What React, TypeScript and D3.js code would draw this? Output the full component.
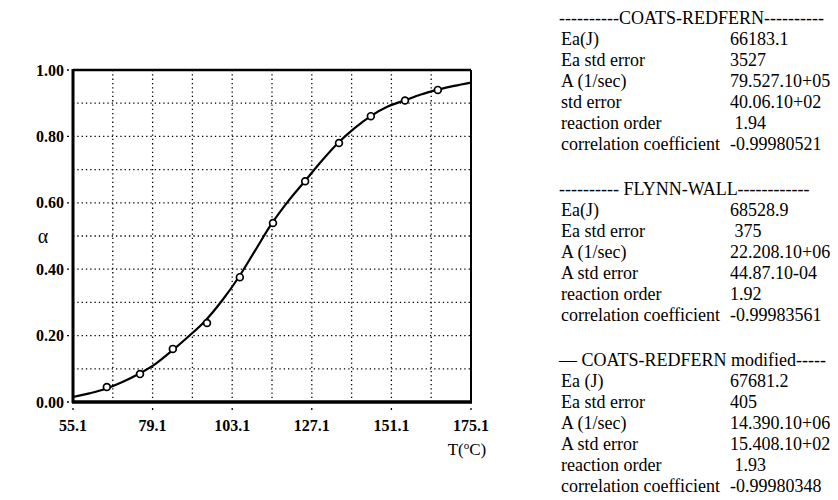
import React from 'react';
import * as d3 from 'd3';

// fitted curve
const curveT = [55.1, 60, 65, 70, 75, 80, 85, 90, 95, 100, 105, 110, 115, 120, 125, 130, 135, 140, 145, 150, 155, 160, 165, 170, 175.1];
const curveAlpha = [0.015, 0.026, 0.04, 0.06, 0.085, 0.115, 0.155, 0.198, 0.245, 0.305, 0.375, 0.456, 0.537, 0.605, 0.665, 0.725, 0.78, 0.825, 0.862, 0.89, 0.908, 0.926, 0.94, 0.952, 0.962];

// measured points (open circles)
const pointT = [65.3, 75.3, 85.2, 95.5, 105.4, 115.4, 125.1, 135.3, 144.9, 155.2, 165.1];
const pointAlpha = [0.045, 0.084, 0.16, 0.238, 0.376, 0.539, 0.665, 0.78, 0.861, 0.908, 0.94];

const xTicks = [55.1, 79.1, 103.1, 127.1, 151.1, 175.1];
const xGrid = [67.1, 79.1, 91.1, 103.1, 115.1, 127.1, 139.1, 151.1, 163.1];
const yTicks = [0, 0.2, 0.4, 0.6, 0.8, 1.0];
const yGrid = [0.1, 0.2, 0.3, 0.4, 0.5, 0.6, 0.7, 0.8, 0.9];

// result table
const groupTitles = ['----------COATS-REDFERN----------', '---------- FLYNN-WALL------------', '\u2014 COATS-REDFERN modified-----'];
const groupLabels = [
  ['Ea(J)', 'Ea std error', 'A (1/sec)', 'std error', 'reaction order', 'correlation coefficient'],
  ['Ea(J)', 'Ea std error', 'A (1/sec)', 'A std error', 'reaction order', 'correlation coefficient'],
  ['Ea (J)', 'Ea std error', 'A (1/sec)', 'A std error', 'reaction order', 'correlation coefficient'],
];
const groupValues = [
  ['66183.1', '3527', '79.527.10+05', '40.06.10+02', ' 1.94', '-0.99980521'],
  ['68528.9', ' 375', '22.208.10+06', '44.87.10-04', '1.92', '-0.99983561'],
  ['67681.2', '405', '14.390.10+06', '15.408.10+02', ' 1.93', '-0.99980348'],
];

const App = () => {
  const left = 73, right = 471, top = 70, bottom = 402;
  const x = d3.scaleLinear().domain([55.1, 175.1]).range([left, right]);
  const y = d3.scaleLinear().domain([0, 1]).range([bottom, top]);

  const line = d3.line<number>()
    .x((d, i) => x(curveT[i]))
    .y(d => y(d))
    .curve(d3.curveMonotoneX);

  const serif = '"Liberation Serif", "Times New Roman", serif';

  return (
    <svg width={838} height={500} style={{ position: 'absolute', left: 0, top: 0, background: '#fff' }}>
      <g stroke="#000" strokeWidth={1.3} strokeDasharray="1.3,3">
        {yGrid.map(v => <line key={'h' + v} x1={left} x2={right} y1={y(v)} y2={y(v)} />)}
        {xGrid.map(v => <line key={'v' + v} x1={x(v)} x2={x(v)} y1={top} y2={bottom} />)}
      </g>

      {/* frame */}
      <line x1={left} x2={right} y1={top} y2={top} stroke="#000" strokeWidth={2.5} />
      <line x1={right} x2={right} y1={top} y2={bottom} stroke="#000" strokeWidth={2} />
      <line x1={left} x2={left} y1={top - 1} y2={bottom + 1} stroke="#000" strokeWidth={3} />
      <line x1={left - 1} x2={right + 1} y1={bottom} y2={bottom} stroke="#000" strokeWidth={3.5} />

      {/* ticks */}
      {yTicks.map(v => <line key={'yt' + v} x1={left - 6} x2={left - 4} y1={y(v)} y2={y(v)} stroke="#000" strokeWidth={1.3} />)}
      {xTicks.map(v => <line key={'xt' + v} x1={x(v)} x2={x(v)} y1={bottom + 6} y2={bottom + 8} stroke="#000" strokeWidth={1.3} />)}

      <g fontFamily={serif} fontWeight="bold" fontSize={16} fill="#000">
        {yTicks.map(v => (
          <text key={'yl' + v} x={left - 9} y={y(v)} dy="0.35em" textAnchor="end">{v.toFixed(2)}</text>
        ))}
        {xTicks.map(v => (
          <text key={'xl' + v} x={x(v)} y={bottom + 29} textAnchor="middle">{v.toFixed(1)}</text>
        ))}
      </g>

      <text x={43} y={243} fontFamily={serif} fontSize={20} textAnchor="middle">α</text>
      <text x={467} y={455} fontFamily={serif} fontSize={17} textAnchor="middle">
        T(<tspan fontSize={11} dy={-6}>o</tspan><tspan dy={6}>C)</tspan>
      </text>

      <path d={line(curveAlpha) || ''} fill="none" stroke="#000" strokeWidth={2.2} />
      {pointT.map((t, i) => (
        <circle key={'p' + i} cx={x(t)} cy={y(pointAlpha[i])} r={3.4} fill="#fff" stroke="#000" strokeWidth={1.7} />
      ))}

      {/* results panel */}
      <g fontFamily={serif} fontSize={18} fill="#000">
        {groupTitles.map((title, g) => {
          const y0 = 24 + g * 171;
          return (
            <g key={'g' + g}>
              <text x={559} y={y0} style={{ whiteSpace: 'pre' }}>{title}</text>
              {groupLabels[g].map((lab, i) => (
                <text key={'l' + i} x={561} y={y0 + 21 * (i + 1)}>{lab}</text>
              ))}
              {groupValues[g].map((val, i) => (
                <text key={'v' + i} x={730} y={y0 + 21 * (i + 1)} style={{ whiteSpace: 'pre' }}>{val}</text>
              ))}
            </g>
          );
        })}
      </g>
    </svg>
  );
};

export default App;
